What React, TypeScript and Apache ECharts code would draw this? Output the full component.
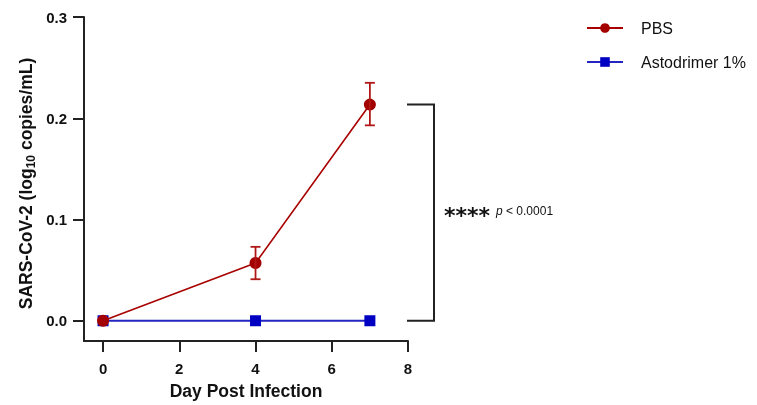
import React, { useEffect, useRef } from 'react';
import * as echarts from 'echarts';

const days = [0, 4, 7];
const pbsMean = [0, 0.057, 0.2135];
const pbsLow = [0, 0.041, 0.193];
const pbsHigh = [0, 0.073, 0.235];
const astoMean = [0, 0, 0];
const xTicks = [0, 2, 4, 6, 8];
const yTicks = [0, 0.1, 0.2, 0.3];
const seriesNames = ['PBS', 'Astodrimer 1%'];
const sigLabel = '****';
const pLabel = '< 0.0001';

const FONT = 'Arial, "Liberation Sans", Helvetica, sans-serif';
const RED = '#A30000';
const BLUE = '#0000C2';

export default function App() {
  const ref = useRef<HTMLDivElement>(null);
  useEffect(() => {
    if (!ref.current) return;
    const chart = echarts.init(ref.current, undefined, { renderer: 'svg' });
    const errData = days
      .map((d, i) => [d, pbsLow[i], pbsHigh[i]])
      .filter((r) => r[2] > r[1]);
    chart.setOption({
      animation: false,
      textStyle: { fontFamily: FONT },
      grid: { left: 84, right: 349, top: 17, bottom: 63, containLabel: false },
      legend: {
        orient: 'vertical',
        left: 581,
        top: 15,
        itemWidth: 36,
        itemHeight: 12,
        itemGap: 18,
        data: seriesNames,
        textStyle: { fontFamily: FONT, fontSize: 16, color: '#111', padding: [0, 0, 0, 13] },
      },
      xAxis: {
        type: 'value',
        min: -0.5,
        max: 8,
        name: 'Day Post Infection',
        nameLocation: 'middle',
        nameGap: 41,
        nameTextStyle: { fontFamily: FONT, fontSize: 17.5, fontWeight: 'bold', color: '#111' },
        splitLine: { show: false },
        axisLine: { show: true, onZero: false, lineStyle: { color: '#222', width: 2 } },
        axisTick: { show: true, length: 11, customValues: xTicks, lineStyle: { color: '#222', width: 2 } },
        axisLabel: {
          customValues: xTicks,
          margin: 20,
          fontFamily: FONT,
          fontSize: 15,
          fontWeight: 'bold',
          color: '#111',
        },
      },
      yAxis: {
        type: 'value',
        min: -0.02,
        max: 0.3,
        name: 'SARS-CoV-2 (log{sub|10} copies/mL)',
        nameLocation: 'middle',
        nameGap: 47,
        nameTextStyle: {
          fontFamily: FONT,
          fontSize: 17.5,
          fontWeight: 'bold',
          color: '#111',
          lineHeight: 22,
          padding: [0, 9, 0, 0],
          rich: {
            sub: { fontFamily: FONT, fontSize: 12, fontWeight: 'bold', color: '#111', verticalAlign: 'bottom', lineHeight: 22 },
          },
        },
        splitLine: { show: false },
        axisLine: { show: true, onZero: false, lineStyle: { color: '#222', width: 2 } },
        axisTick: { show: true, length: 11, customValues: yTicks, lineStyle: { color: '#222', width: 2 } },
        axisLabel: {
          customValues: yTicks,
          margin: 17,
          formatter: (v: number) => v.toFixed(1),
          fontFamily: FONT,
          fontSize: 15,
          fontWeight: 'bold',
          color: '#111',
        },
      },
      series: [
        {
          name: 'Astodrimer 1%',
          type: 'line',
          data: days.map((d, i) => [d, astoMean[i]]),
          symbol: 'rect',
          symbolSize: 11,
          lineStyle: { color: '#2525C0', width: 2 },
          itemStyle: { color: BLUE },
          z: 2,
        },
        {
          name: 'PBS',
          type: 'line',
          data: days.map((d, i) => [d, pbsMean[i]]),
          symbol: 'circle',
          symbolSize: 12,
          lineStyle: { color: '#A80000', width: 1.6 },
          itemStyle: { color: RED },
          z: 3,
        },
        {
          name: 'errors',
          type: 'custom',
          data: errData,
          z: 4,
          silent: true,
          renderItem: (params: any, api: any) => {
            const x = api.value(0);
            const lo = api.coord([x, api.value(1)]);
            const hi = api.coord([x, api.value(2)]);
            const w = 5;
            const style = { stroke: '#B01818', lineWidth: 1.8, fill: 'none' };
            return {
              type: 'group',
              children: [
                { type: 'line', shape: { x1: lo[0], y1: lo[1], x2: hi[0], y2: hi[1] }, style },
                { type: 'line', shape: { x1: hi[0] - w, y1: hi[1], x2: hi[0] + w, y2: hi[1] }, style },
                { type: 'line', shape: { x1: lo[0] - w, y1: lo[1], x2: lo[0] + w, y2: lo[1] }, style },
              ],
            };
          },
        },
      ],
    });
    const top = chart.convertToPixel({ gridIndex: 0 }, [8, pbsMean[2]]);
    const bot = chart.convertToPixel({ gridIndex: 0 }, [8, 0]);
    const x0 = top[0] - 1;
    const x1 = x0 + 27;
    const mid = (top[1] + bot[1]) / 2;
    chart.setOption({
      graphic: [
        {
          type: 'polyline',
          shape: { points: [[x0, top[1]], [x1, top[1]], [x1, bot[1]], [x0, bot[1]]] },
          style: { stroke: '#222', lineWidth: 2, fill: 'none' },
        },
        {
          type: 'text',
          x: x1 + 10,
          y: mid + 3,
          style: {
            text: sigLabel,
            fontFamily: '"DejaVu Sans", sans-serif',
            fontSize: 22,
            fontWeight: 'bold',
            fill: '#111',
            verticalAlign: 'middle',
          },
        },
        {
          type: 'text',
          x: x1 + 62,
          y: mid - 2,
          style: {
            text: `{p|p} ${pLabel}`,
            fontFamily: FONT,
            fontSize: 12,
            fill: '#111',
            verticalAlign: 'middle',
            rich: {
              p: { fontFamily: FONT, fontSize: 12, fontStyle: 'italic', fill: '#111' },
            },
          },
        },
      ],
    });
    return () => chart.dispose();
  }, []);
  return <div ref={ref} style={{ position: 'fixed', left: 0, top: 0, width: 757, height: 405 }} />;
}
